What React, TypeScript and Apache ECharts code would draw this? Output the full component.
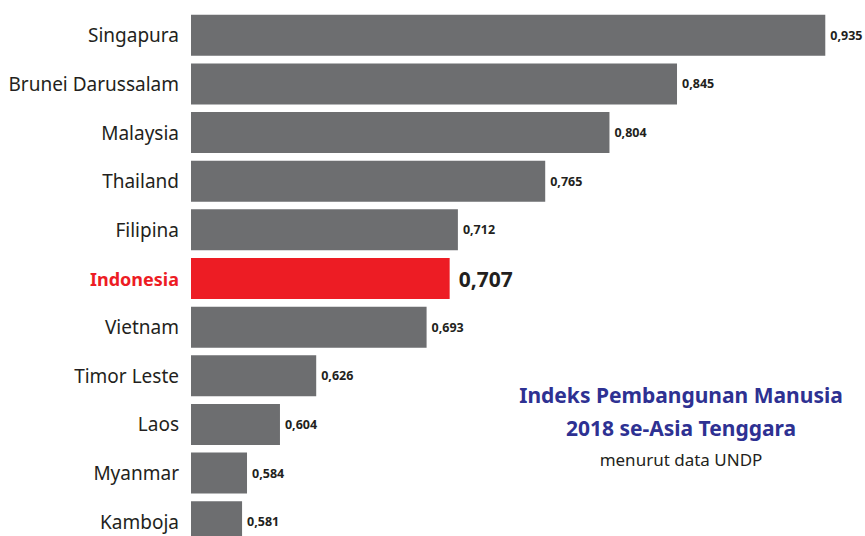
import React, { useEffect, useRef } from "react";
import * as echarts from "echarts";

const categories = [
  "Singapura",
  "Brunei Darussalam",
  "Malaysia",
  "Thailand",
  "Filipina",
  "Indonesia",
  "Vietnam",
  "Timor Leste",
  "Laos",
  "Myanmar",
  "Kamboja",
];
const values = [0.935, 0.845, 0.804, 0.765, 0.712, 0.707, 0.693, 0.626, 0.604, 0.584, 0.581];
const highlight = "Indonesia";
const titleLines = ["Indeks Pembangunan Manusia", "2018 se-Asia Tenggara"];
const subtitle = "menurut data UNDP";

const FONT = "'Noto Sans', 'Open Sans', sans-serif";
const GRAY = "#6d6e70";
const RED = "#ed1c24";

export default function App() {
  const ref = useRef<HTMLDivElement>(null);
  useEffect(() => {
    document.body.style.margin = "0";
    if (!ref.current) return;
    const chart = echarts.init(ref.current, undefined, { renderer: "svg" });
    const fmt = (v: number) => v.toFixed(3).replace(".", ",");
    chart.setOption({
      animation: false,
      grid: {
        left: 191,
        right: 15,
        top: 11,
        bottom: 0,
        containLabel: false,
        outerBoundsMode: "none",
      },
      xAxis: {
        type: "value",
        min: 0.55,
        max: 0.95,
        show: false,
      },
      yAxis: {
        type: "category",
        inverse: true,
        data: categories,
        axisLine: { show: false },
        axisTick: { show: false },
        axisLabel: {
          margin: 12,
          fontFamily: FONT,
          fontSize: 19,
          color: "#231f20",
          formatter: (v: string) => (v === highlight ? `{hl|${v}}` : v),
          rich: {
            hl: { color: RED, fontWeight: "bold", fontSize: 18, fontFamily: FONT },
          },
        },
      },
      series: [
        {
          type: "bar",
          barWidth: 41,
          data: categories.map((c, i) => ({
            value: values[i],
            itemStyle: { color: c === highlight ? RED : GRAY },
            label:
              c === highlight
                ? { fontSize: 21, distance: 9 }
                : {},
          })),
          label: {
            show: true,
            position: "right",
            distance: 5,
            fontFamily: FONT,
            fontWeight: "bold",
            fontSize: 12.5,
            color: "#231f20",
            formatter: (p: any) => fmt(p.value),
          },
        },
      ],
      graphic: [
        {
          type: "text",
          x: 681,
          y: 395,
          style: {
            text: titleLines[0],
            font: `bold 21px ${FONT}`,
            fill: "#2e3192",
            align: "center",
            verticalAlign: "middle",
          },
        },
        {
          type: "text",
          x: 681,
          y: 428,
          style: {
            text: titleLines[1],
            font: `bold 21px ${FONT}`,
            fill: "#2e3192",
            align: "center",
            verticalAlign: "middle",
          },
        },
        {
          type: "text",
          x: 681,
          y: 459,
          style: {
            text: subtitle,
            font: `17px ${FONT}`,
            fill: "#231f20",
            align: "center",
            verticalAlign: "middle",
          },
        },
      ],
    });
    return () => chart.dispose();
  }, []);
  return (
    <div style={{ width: 865, height: 536, overflow: "hidden" }}>
      <div ref={ref} style={{ width: 865, height: 546 }} />
    </div>
  );
}
